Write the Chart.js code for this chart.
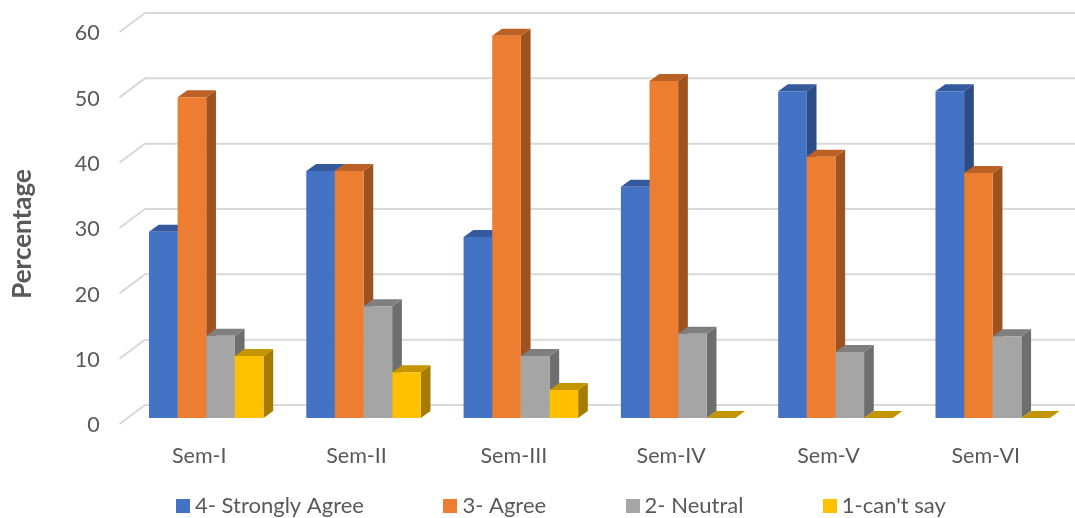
<!DOCTYPE html>
<html><head><meta charset="utf-8">
<style>html,body{margin:0;padding:0;background:#fff}#w{width:1075px;height:518px;position:relative}</style>
<script src="https://cdn.jsdelivr.net/npm/chart.js@4"></script></head>
<body><div id="w"><canvas id="c"></canvas></div>
<script>
const categories = ["Sem-I","Sem-II","Sem-III","Sem-IV","Sem-V","Sem-VI"];
const stronglyAgree = [28.5,37.8,27.7,35.4,50,50];
const agree = [49.1,37.8,58.5,51.6,40,37.5];
const neutral = [12.6,17.1,9.5,12.9,10.1,12.5];
const cantSay = [9.5,7,4.3,0,0,0];
const seriesNames = ["4- Strongly Agree","3- Agree","2- Neutral","1-can't say"];
const frontColors = ["#4472C4","#ED7D31","#A5A5A5","#FFC000"];
const sideColors = ["#2C4C86","#9E521E","#6E6E6E","#A67C00"];
const topColors = ["#34599C","#BC6125","#7F7F7F","#C39500"];
const FONT = "Lato";
const TEXT = "#595959";
const GRID = "#D9D9D9";
const DX = 9.7, DY = 7;

const swatches = frontColors.map(col => {
  const s = document.createElement('canvas'); s.width = 14; s.height = 14;
  const g = s.getContext('2d'); g.fillStyle = col; g.fillRect(0,0,14,14); return s;
});

const wall3d = {
  id:'wall3d',
  beforeInit(chart){
    const lg = chart.legend, fit = lg.fit;
    lg.fit = function(){ fit.call(this); this.height = 40; };
  },
  afterLayout(chart){
    const lg = chart.legend, pad = lg.options.labels.padding;
    lg.left = 182 - pad; lg.right = 1075; lg.top = 495 - pad; lg.bottom = 518;
    const y = chart.scales.y;
    if (!y._shifted) {
      y._shifted = true;
      const dt = y.drawTitle;
      y.drawTitle = function(){ const c = this.ctx; c.save(); c.translate(0,12); dt.call(this); c.restore(); };
    }
  },
  beforeDatasetsDraw(chart){
    const {ctx, scales:{y}} = chart;
    ctx.save();
    ctx.strokeStyle = GRID; ctx.lineWidth = 2;
    y.ticks.forEach(t => {
      const p = y.getPixelForValue(t.value);
      ctx.beginPath(); ctx.moveTo(119.5,p+6); ctx.lineTo(145,p-13); ctx.lineTo(1075,p-13); ctx.stroke();
    });
    chart.data.labels.forEach((_,ci) => {
      chart.data.datasets.forEach((d,di) => {
        const b = chart.getDatasetMeta(di).data[ci];
        const l = b.x - b.width/2, r = b.x + b.width/2, t = b.y, bt = b.base;
        ctx.fillStyle = sideColors[di];
        ctx.beginPath(); ctx.moveTo(r,t); ctx.lineTo(r+DX,t-DY); ctx.lineTo(r+DX,bt-DY); ctx.lineTo(r,bt); ctx.closePath(); ctx.fill();
        ctx.fillStyle = topColors[di];
        ctx.beginPath(); ctx.moveTo(l,t); ctx.lineTo(l+DX,t-DY); ctx.lineTo(r+DX,t-DY); ctx.lineTo(r,t); ctx.closePath(); ctx.fill();
      });
    });
    ctx.restore();
  }
};

new Chart(document.getElementById('c'), {
  type:'bar',
  plugins:[wall3d],
  data:{ labels:categories, datasets:[stronglyAgree,agree,neutral,cantSay].map((v,i)=>({
    label:seriesNames[i], data:v, backgroundColor:frontColors[i], borderWidth:0,
    categoryPercentage:0.728, barPercentage:1 })) },
  options:{
    responsive:true, maintainAspectRatio:false, animation:false,
    layout:{autoPadding:false, padding:{top:26,right:3.6,bottom:0,left:0}},
    plugins:{
      tooltip:{enabled:false},
      legend:{display:true, position:'bottom', align:'start',
        labels:{usePointStyle:true, pointStyleWidth:2, boxHeight:14, padding:85.5, color:TEXT, font:{family:FONT,size:22},
          generateLabels:c=>Chart.defaults.plugins.legend.labels.generateLabels(c).map((it,i)=>({...it,pointStyle:swatches[i]}))}}
    },
    scales:{
      x:{ grid:{display:false}, border:{display:false},
        ticks:{color:TEXT, font:{family:FONT,size:21.5}, padding:17, labelOffset:-7, maxRotation:0},
        afterFit(s){ s.height = 60; } },
      y:{ min:0, max:60, grid:{display:false, drawTicks:true, tickLength:28}, border:{display:false},
        ticks:{stepSize:10, color:TEXT, font:{family:FONT,size:21.5}, padding:0, labelOffset:7.5},
        title:{display:true, text:"Percentage", color:TEXT, font:{family:FONT,size:26,weight:'bold'}, padding:{top:7,bottom:0}},
        afterFit(s){ s.width = 127.6; } }
    }
  }
});
</script></body></html>
